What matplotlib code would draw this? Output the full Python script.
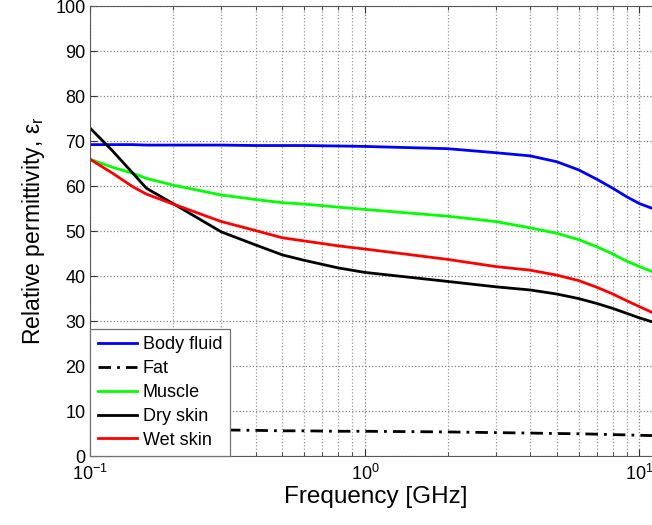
import matplotlib
matplotlib.use("Agg")
import matplotlib.pyplot as plt
from matplotlib.ticker import LogLocator, NullFormatter, MultipleLocator

plt.rcParams['font.family'] = ['Liberation Sans', 'DejaVu Sans']
plt.rcParams['mathtext.fontset'] = 'custom'
plt.rcParams['mathtext.rm'] = 'Liberation Sans'
plt.rcParams['mathtext.it'] = 'Liberation Sans:italic'
plt.rcParams['mathtext.default'] = 'regular'

freq = [0.1, 0.12, 0.143, 0.16, 0.2, 0.3, 0.4, 0.5, 0.6, 0.8, 1.0, 2.0,
        3.0, 4.0, 5.0, 6.0, 7.0, 8.0, 9.0, 10.0, 12.0]
body_fluid = [69.2, 69.2, 69.2, 69.1, 69.1, 69.1, 69.0, 69.0, 69.0, 68.9, 68.8, 68.3,
              67.4, 66.7, 65.4, 63.6, 61.5, 59.5, 57.6, 56.1, 54.3]
fat = [6.1, 6.05, 6.0, 6.0, 5.9, 5.8, 5.7, 5.6, 5.6, 5.5, 5.5, 5.35,
       5.2, 5.1, 5.0, 4.95, 4.85, 4.75, 4.7, 4.6, 4.5]
muscle = [65.9, 64.2, 62.8, 61.7, 60.2, 58.0, 57.0, 56.3, 56.0, 55.3, 54.8, 53.3,
          52.1, 50.7, 49.5, 48.1, 46.5, 44.9, 43.3, 42.1, 40.2]
dry_skin = [72.8, 67.9, 62.8, 59.5, 56.1, 49.8, 46.9, 44.7, 43.5, 41.8, 40.8, 38.8,
            37.6, 36.9, 36.0, 35.0, 33.9, 32.8, 31.7, 30.7, 29.2]
wet_skin = [65.9, 62.9, 59.8, 58.2, 56.0, 52.1, 50.1, 48.5, 47.8, 46.7, 46.0, 43.7,
            42.1, 41.3, 40.2, 39.0, 37.5, 36.0, 34.5, 33.2, 31.0]

labels = ['Body fluid', 'Fat', 'Muscle', 'Dry skin', 'Wet skin']

fig = plt.figure(figsize=(6.52, 5.25), dpi=100)
ax = fig.add_axes([0.1387, 0.1314, 0.8753, 0.8571])

lw = 2.0
ax.plot(freq, body_fluid, color='#0000ff', lw=lw, label=labels[0])
ax.plot(freq, fat, color='black', lw=lw, linestyle=(0, (4.5, 2.2, 1.0, 2.2)), label=labels[1])
ax.plot(freq, muscle, color='#00ff00', lw=lw, label=labels[2])
ax.plot(freq, dry_skin, color='black', lw=lw, label=labels[3])
ax.plot(freq, wet_skin, color='#ff0000', lw=lw, label=labels[4])

ax.set_xscale('log')
ax.set_xlim(0.1, 12)
ax.set_ylim(0, 100)
ax.yaxis.set_major_locator(MultipleLocator(10))
ax.xaxis.set_major_locator(LogLocator(base=10, numticks=10))
ax.xaxis.set_minor_locator(LogLocator(base=10, subs=range(2, 10), numticks=20))
ax.xaxis.set_minor_formatter(NullFormatter())

ax.grid(True, which='major', linestyle=':', color='0.5', linewidth=0.9)
ax.grid(True, which='minor', axis='x', linestyle=':', color='0.6', linewidth=0.9)

ax.tick_params(which='both', direction='in', top=True, right=True, labelsize=13,
               colors='0.2', labelcolor='black')
ax.tick_params(which='major', length=5)
ax.tick_params(which='minor', length=3)
ax.tick_params(axis='x', pad=6)
for s in ax.spines.values():
    s.set_color('0.35')
    s.set_linewidth(0.8)

ax.set_xlabel('Frequency [GHz]', fontsize=17.5, labelpad=1)
ax.set_ylabel('Relative permittivity, $\\mathrm{\u03b5}_{\\mathrm{r}}$', fontsize=16.5, labelpad=6)

leg = ax.legend(loc='lower left', fontsize=13, fancybox=False, edgecolor='0.45',
                framealpha=1, borderaxespad=0.0, handlelength=2.2, labelspacing=0.38,
                borderpad=0.4, handletextpad=0.3)
leg.get_frame().set_linewidth(0.9)

fig.savefig('out.png', dpi=100)
